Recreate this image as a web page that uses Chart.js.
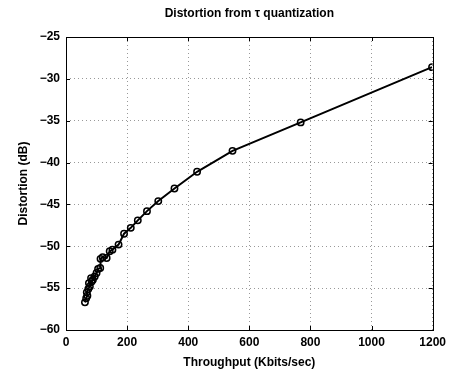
<!DOCTYPE html>
<html>
<head>
<meta charset="utf-8">
<script src="https://cdn.jsdelivr.net/npm/chart.js@4"></script>
<style>
  html, body { margin: 0; padding: 0; background: #fff; overflow: hidden; }
  canvas { display: block; }
</style>
</head>
<body>
<canvas id="chart" width="451" height="370"></canvas>
<script>
// throughput (Kbits/sec) and distortion (dB)
const throughput = [62, 66, 70, 68, 73, 78, 75, 84, 88, 82, 94, 100, 105, 112, 113, 120, 133, 143, 152, 172, 190, 212, 235, 265, 302, 355, 429, 545, 768, 1198];
const distortion = [-56.7, -56.2, -55.9, -55.5, -55.1, -54.8, -54.4, -54.2, -54.0, -53.8, -53.6, -53.2, -52.7, -52.6, -51.5, -51.3, -51.4, -50.6, -50.4, -49.8, -48.5, -47.8, -46.9, -45.8, -44.6, -43.1, -41.1, -38.6, -35.2, -28.6];
const xTicks = [0, 200, 400, 600, 800, 1000, 1200];
const yTicks = [-60, -55, -50, -45, -40, -35, -30, -25];
const chartTitle = "Distortion from \u03c4 quantization";

const FONT = "'Liberation Sans', Arial, Helvetica, sans-serif";
const minus = (v) => String(v).replace("-", "\u2212");

// box round the plot + inward ticks, matlab style; title centred over the plot
const boxPlugin = {
    id: "box",
    afterDatasetsDraw(chart) {
        const ctx = chart.ctx;
        const a = chart.chartArea;
        const xs = chart.scales.x, ys = chart.scales.y;
        ctx.save();
        ctx.strokeStyle = "#000";
        ctx.lineWidth = 1;
        ctx.setLineDash([]);
        ctx.beginPath();
        xTicks.forEach((t) => {
            const px = Math.round(xs.getPixelForValue(t)) + 0.5;
            ctx.moveTo(px, a.bottom); ctx.lineTo(px, a.bottom - 4);
            ctx.moveTo(px, a.top); ctx.lineTo(px, a.top + 4);
        });
        yTicks.forEach((t) => {
            const py = Math.round(ys.getPixelForValue(t)) + 0.5;
            ctx.moveTo(a.left, py); ctx.lineTo(a.left + 4, py);
            ctx.moveTo(a.right, py); ctx.lineTo(a.right - 4, py);
        });
        ctx.stroke();
        ctx.strokeRect(Math.round(a.left) + 0.5, Math.round(a.top) + 0.5,
            Math.round(a.right - a.left), Math.round(a.bottom - a.top));

        ctx.fillStyle = "#000";
        ctx.font = "bold 12px " + FONT;
        ctx.textAlign = "center";
        ctx.textBaseline = "middle";
        ctx.fillText(chartTitle, (a.left + a.right) / 2, 14);
        ctx.restore();
    },
};

new Chart(document.getElementById("chart"), {
    type: "scatter",
    data: {
        datasets: [
            {
                data: throughput.map((x, i) => ({ x: x, y: distortion[i] })),
                showLine: true,
                borderColor: "#000",
                borderWidth: 2,
                pointRadius: 3.2,
                pointBorderWidth: 1.5,
                pointBorderColor: "#000",
                pointBackgroundColor: "rgba(255,255,255,0)",
            },
        ],
    },
    options: {
        responsive: false,
        animation: false,
        devicePixelRatio: 1,
        layout: { autoPadding: false, padding: { left: 0, right: 13, top: 37, bottom: 0 } },
        plugins: {
            legend: { display: false },
            tooltip: { enabled: false },
            title: { display: false },
        },
        scales: {
            x: {
                type: "linear",
                min: 0,
                max: 1200,
                afterBuildTicks: (s) => { s.ticks = xTicks.map((v) => ({ value: v })); },
                afterFit: (s) => { s.height = 40; },
                ticks: {
                    color: "#000",
                    padding: 5,
                    font: { family: FONT, size: 12, weight: "bold" },
                    callback: minus,
                },
                grid: { color: "#999", drawTicks: false },
                border: { display: false, dash: [1, 3] },
                title: {
                    display: true,
                    text: "Throughput (Kbits/sec)",
                    color: "#000",
                    font: { family: FONT, size: 12, weight: "bold" },
                    padding: { top: 0, bottom: 0 },
                },
            },
            y: {
                type: "linear",
                min: -60,
                max: -25,
                afterBuildTicks: (s) => { s.ticks = yTicks.map((v) => ({ value: v })); },
                afterFit: (s) => { s.width = 66; },
                ticks: {
                    color: "#000",
                    padding: 6,
                    font: { family: FONT, size: 12, weight: "bold" },
                    callback: minus,
                },
                grid: { color: "#999", drawTicks: false },
                border: { display: false, dash: [1, 3] },
                title: {
                    display: true,
                    text: "Distortion (dB)",
                    color: "#000",
                    font: { family: FONT, size: 12, weight: "bold" },
                    padding: { top: 16, bottom: 0 },
                },
            },
        },
    },
    plugins: [boxPlugin],
});
</script>
</body>
</html>
